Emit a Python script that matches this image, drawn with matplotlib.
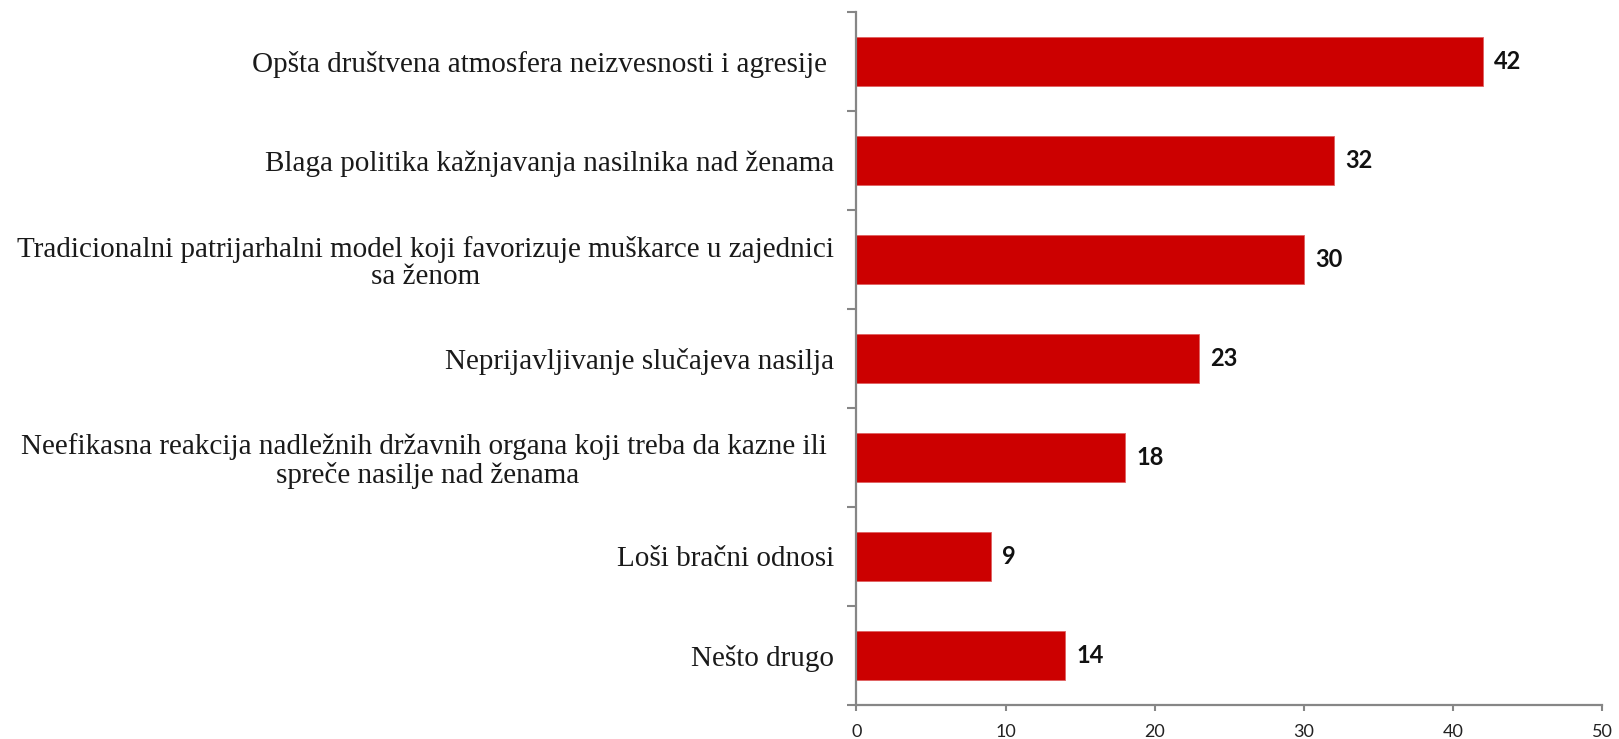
import matplotlib
matplotlib.use("Agg")
import matplotlib.pyplot as plt
import numpy as np

CATEGORIES = [
    "Opšta društvena atmosfera neizvesnosti i agresije ",
    "Blaga politika kažnjavanja nasilnika nad ženama",
    "Tradicionalni patrijarhalni model koji favorizuje muškarce u zajednici\nsa ženom",
    "Neprijavljivanje slučajeva nasilja",
    "Neefikasna reakcija nadležnih državnih organa koji treba da kazne ili \nspreče nasilje nad ženama",
    "Loši bračni odnosi",
    "Nešto drugo",
]
VALUES = [42, 32, 30, 23, 18, 9, 14]
X_TICKS = [0, 10, 20, 30, 40, 50]

BAR = "#cc0000"
AXIS = "#868686"

fig = plt.figure(figsize=(16.19, 7.39), dpi=100)
ax = fig.add_axes([0.529, 0.046, 0.4605, 0.9378])

n = len(VALUES)
y = np.arange(n)
ax.barh(y, VALUES, height=0.5, color=BAR, edgecolor="#e06060", linewidth=0.6)
ax.set_ylim(n - 0.5, -0.5)
ax.set_xlim(0, 50)

for yi, v in zip(y, VALUES):
    ax.text(v + 0.75, yi, str(v), va="center", ha="left", fontsize=17,
            fontweight="bold", family="Lato", color="#111111")

# category boundaries as major ticks, labels on minor ticks
ax.set_yticks(np.arange(-0.5, n, 1))
ax.set_yticklabels([])
ax.set_yticks(y, minor=True)
ax.set_yticklabels(CATEGORIES, minor=True, family="Liberation Serif",
                   fontsize=21, multialignment="center", color="#1a1a1a",
                   linespacing=1.05)
ax.tick_params(axis="y", which="major", length=6.2, color=AXIS, width=1.5, direction="out")
ax.tick_params(axis="y", which="minor", length=0, pad=16)

ax.set_xticks(X_TICKS)
ax.set_xticklabels([str(t) for t in X_TICKS], family="Lato", fontsize=13, color="#222222")
ax.tick_params(axis="x", length=4.5, color=AXIS, width=1.5, direction="out", pad=9)

for s in ["top", "right"]:
    ax.spines[s].set_visible(False)
for s in ["left", "bottom"]:
    ax.spines[s].set_color(AXIS)
    ax.spines[s].set_linewidth(1.6)

fig.savefig("out.png", dpi=100)
